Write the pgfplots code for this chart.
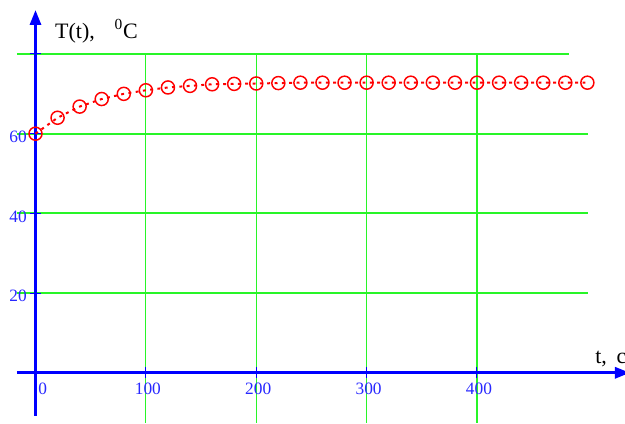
\documentclass[border=0pt]{standalone}
\usepackage{fontspec}
\setmainfont{Liberation Serif}
\usepackage{pgfplots}
\pgfplotsset{compat=1.18}
\usetikzlibrary{arrows.meta}
\definecolor{gridgreen}{RGB}{40,245,40}
\definecolor{axblue}{RGB}{0,0,255}
\definecolor{lblblue}{RGB}{40,40,255}
\begin{document}
\begin{tikzpicture}
\begin{axis}[
  scale only axis, width=468.75pt, height=317.25pt,
  xmin=-32.16, xmax=534.1, ymin=-12.6, ymax=93.55,
  hide axis, clip=false,
]
% grid
\foreach \yy in {0,20,40,60} {
  \edef\tmp{\noexpand\draw[gridgreen, line width=1.4pt] (axis cs:-16.8,\yy) -- (axis cs:500.3,\yy);}\tmp
}
\draw[gridgreen, line width=1.2pt] (axis cs:-16.8,80) -- (axis cs:483.4,80);
\foreach \xx in {100,200,300,400} {
  \edef\tmp{\noexpand\draw[gridgreen, line width=0.9pt] (axis cs:\xx,80) -- (axis cs:\xx,-12.6);}\tmp
}
% axes
\draw[axblue, line width=2.25pt, -{Triangle[length=11.25pt, width=8.25pt]}] (axis cs:-16.8,0) -- (axis cs:538.6,0);
\draw[axblue, line width=2.25pt, -{Triangle[length=11.25pt, width=8.25pt]}] (axis cs:0,-10.84) -- (axis cs:0,91.04);
% ticks
\foreach \xx in {100,200,300,400} {
  \edef\tmp{\noexpand\draw[axblue, line width=0.75pt] (axis cs:\xx,-1.2) -- (axis cs:\xx,1.5);}\tmp
}
\foreach \yy in {20,40,60,80} {
  \edef\tmp{\noexpand\draw[axblue, line width=0.75pt] (axis cs:-5.4,\yy) -- (axis cs:5.4,\yy);}\tmp
}
% tick labels
\node[lblblue, font=\fontsize{13}{13}\selectfont, anchor=base west, inner sep=0pt] at ([xshift=1.9pt, yshift=-16.5pt]axis cs:0,0) {0};
\foreach \xx in {100,200,300,400} {
  \edef\tmp{\noexpand\node[lblblue, font=\noexpand\fontsize{13}{13}\noexpand\selectfont, anchor=base, inner sep=0pt] at ([xshift=1.5pt, yshift=-16.5pt]axis cs:\xx,0) {\xx};}\tmp
}
\foreach \yy in {20,40,60} {
  \edef\tmp{\noexpand\node[lblblue, font=\noexpand\fontsize{13}{13}\noexpand\selectfont, anchor=base east, inner sep=0pt] at ([xshift=-6.4pt, yshift=-6.5pt]axis cs:0,\yy) {\yy};}\tmp
}
% axis titles
\node[black, font=\fontsize{16.5}{16.5}\selectfont, anchor=base west, inner sep=0pt] at (axis cs:17.6,84.0) {T(t),\hspace{0.9em}\textsuperscript{0}C};
\node[black, font=\fontsize{16.5}{16.5}\selectfont, anchor=base west, inner sep=0pt] at (axis cs:506.9,2.4) {t,\hspace{0.45em}c};
% data
\addplot[red, line width=1.5pt, dash pattern=on 2.2pt off 3.3pt,
  mark=o, mark size=4.9pt, mark options={solid, line width=1.1pt}]
coordinates {
(0,60.0) (20,64.0) (40,66.8) (60,68.7) (80,70.0) (100,70.9)
(120,71.6) (140,72.0) (160,72.4) (180,72.5) (200,72.6) (220,72.7)
(240,72.8) (260,72.8) (280,72.8) (300,72.8) (320,72.8) (340,72.8)
(360,72.8) (380,72.8) (400,72.8) (420,72.8) (440,72.8) (460,72.8)
(480,72.8) (500,72.8)
};
\coordinate (bbsw) at (axis cs:-32.16,-12.6);
\coordinate (bbne) at (axis cs:534.1,93.55);
\end{axis}
\pgfresetboundingbox
\path[use as bounding box] (bbsw) rectangle (bbne);
\end{tikzpicture}
\end{document}
